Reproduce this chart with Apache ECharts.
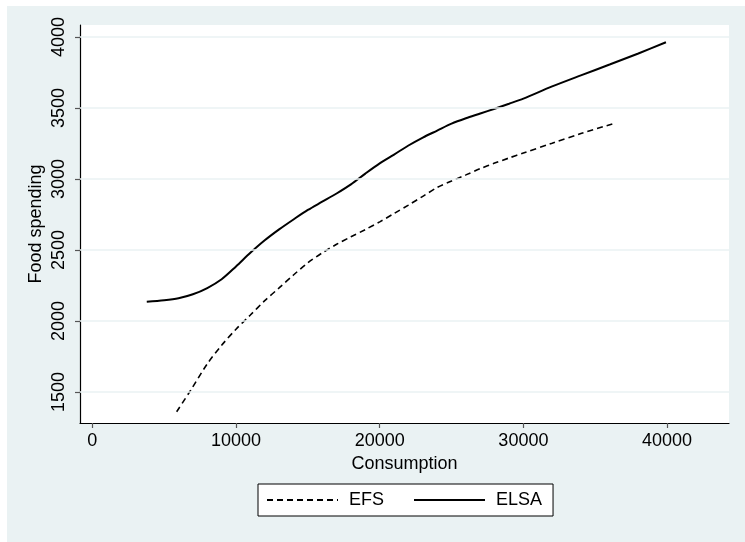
<!DOCTYPE html>
<html>
<head>
<meta charset="utf-8">
<script src="https://cdn.jsdelivr.net/npm/echarts@6/dist/echarts.min.js"></script>
<style>
  html, body { margin: 0; padding: 0; background: #fff; }
  #main { width: 745px; height: 542px; }
</style>
</head>
<body>
<div id="main"></div>
<script>
// food spending vs consumption, two surveys
var efsX = [5870, 6800, 8000, 9000, 10000, 11000, 12000, 13000, 14000, 15000, 16000, 17000, 18000, 19000, 20000,
            21000, 22000, 23000, 24000, 25000, 26000, 27000, 28000, 29000, 30000, 32000, 34000, 36260];
var efsY = [1361, 1505, 1698, 1829, 1942, 2042, 2143, 2233, 2324, 2410, 2480, 2540, 2593, 2644, 2698,
            2757, 2816, 2878, 2940, 2986, 3029, 3073, 3112, 3148, 3183, 3252, 3320, 3390];
var elsaX = [3790, 5000, 6000, 7000, 8000, 9000, 10000, 11000, 12000, 13000, 14000, 15000, 16000, 17000, 18000,
             19000, 20000, 21000, 22000, 23000, 24000, 25000, 26000, 27000, 28000, 29000, 30000, 32000, 34000,
             36000, 38000, 39920];
var elsaY = [2136, 2146, 2160, 2188, 2232, 2294, 2384, 2480, 2568, 2645, 2715, 2782, 2840, 2898, 2962,
             3038, 3110, 3172, 3236, 3292, 3341, 3390, 3428, 3461, 3495, 3530, 3566, 3652, 3730,
             3806, 3884, 3963];
var xTicks = [0, 10000, 20000, 30000, 40000];
var yTicks = [1500, 2000, 2500, 3000, 3500, 4000];

function pairs(xs, ys) {
  return xs.map(function (x, i) { return [x, ys[i]]; });
}

var font = '"Liberation Sans", Arial, sans-serif';
var bg = '#eaf2f3';

var chart = echarts.init(document.getElementById('main'));
var option = {
  backgroundColor: bg,
  animation: false,
  textStyle: { fontFamily: font, color: '#000' },
  graphic: [
    { type: 'rect', left: 0, top: 0, shape: { width: 745, height: 6 }, style: { fill: '#fff' }, z: 100 },
    { type: 'rect', left: 0, top: 0, shape: { width: 7, height: 542 }, style: { fill: '#fff' }, z: 100 },
    {
      // y axis title
      type: 'text', x: 36.5, y: 224, rotation: Math.PI / 2, z: 100,
      style: { text: 'Food spending', fontSize: 18, fontFamily: font, fill: '#000', align: 'center', verticalAlign: 'middle' }
    }
  ],
  grid: {
    left: 80, top: 25, right: 16, bottom: 119,
    show: true, backgroundColor: '#fff', borderWidth: 0
  },
  xAxis: {
    type: 'value',
    min: -856, max: 44308,
    name: 'Consumption',
    nameLocation: 'middle',
    nameGap: 28,
    nameTextStyle: { fontSize: 18, fontFamily: font, color: '#000' },
    axisLine: { onZero: false, lineStyle: { color: '#000', width: 1.2 } },
    axisTick: { show: true, length: 5, customValues: xTicks, lineStyle: { color: '#555', width: 1.2 } },
    axisLabel: {
      customValues: xTicks, fontSize: 18, margin: 9, color: '#000', fontFamily: font,
      formatter: function (v) { return String(v); }
    },
    splitLine: { show: false }
  },
  yAxis: {
    type: 'value',
    min: 1281.7, max: 4084.5,
    axisLine: { show: true, onZero: false, lineStyle: { color: '#000', width: 1.2 } },
    axisTick: { show: true, length: 5, customValues: yTicks, lineStyle: { color: '#555', width: 1.2 } },
    axisLabel: {
      customValues: yTicks, rotate: 90, fontSize: 18, margin: 12, color: '#000', fontFamily: font,
      formatter: function (v) { return String(v); }
    },
    splitLine: { show: false }
  },
  legend: {
    left: 258, top: 484,
    orient: 'horizontal',
    data: ['EFS', 'ELSA'],
    backgroundColor: '#fff',
    borderColor: '#000',
    borderWidth: 1,
    borderRadius: 0,
    padding: [7, 11, 7, 8],
    itemWidth: 71,
    itemHeight: 14,
    itemGap: 29,
    itemStyle: { opacity: 0 },
    textStyle: { fontSize: 18, fontFamily: font, color: '#000', padding: [0, 0, 0, 6] }
  },
  series: [
    {
      // horizontal grid lines
      type: 'line',
      data: [],
      silent: true,
      z: 1,
      markLine: {
        silent: true,
        symbol: 'none',
        label: { show: false },
        lineStyle: { color: bg, width: 1.5, type: 'solid' },
        data: yTicks.map(function (v) { return { yAxis: v }; })
      }
    },
    {
      name: 'EFS',
      type: 'line',
      data: pairs(efsX, efsY),
      smooth: 0.3,
      symbol: 'none',
      z: 3,
      lineStyle: { color: '#000', width: 1.6, type: [6, 4] },
      itemStyle: { color: '#000' }
    },
    {
      name: 'ELSA',
      type: 'line',
      data: pairs(elsaX, elsaY),
      smooth: 0.3,
      symbol: 'none',
      z: 3,
      lineStyle: { color: '#000', width: 2 },
      itemStyle: { color: '#000' }
    }
  ]
};
chart.setOption(option);
</script>
</body>
</html>
